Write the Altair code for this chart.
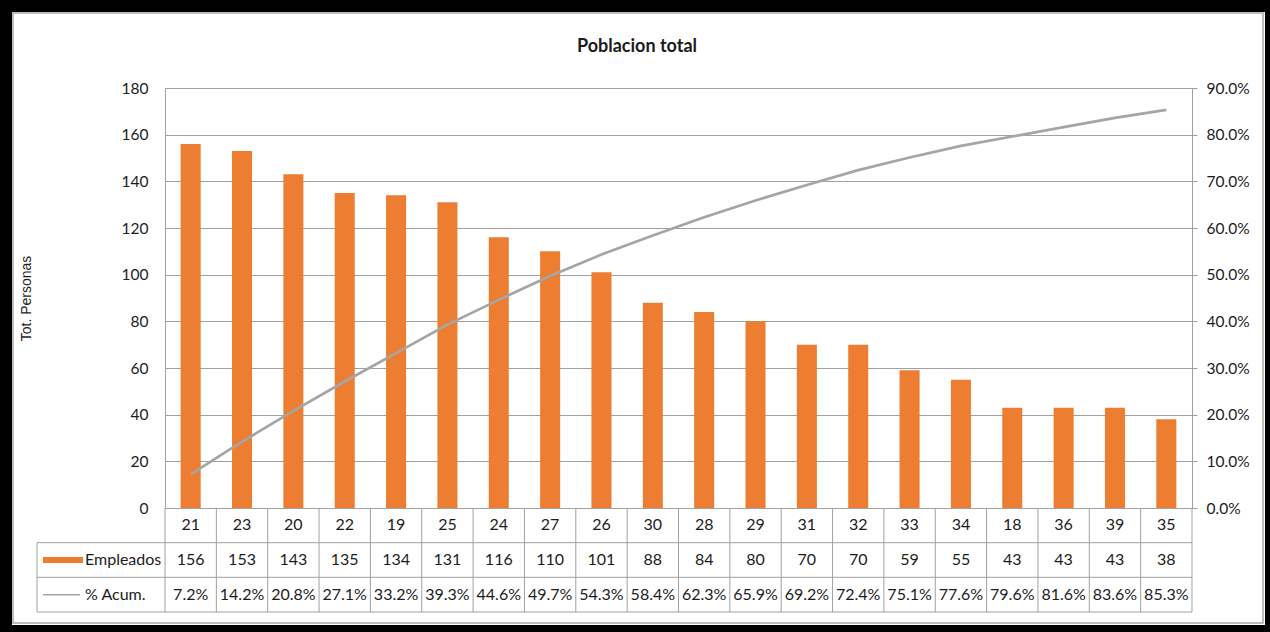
import altair as alt
import pandas as pd

# Categories (age) in Pareto order, employee counts and cumulative share
categorias = ["21", "23", "20", "22", "19", "25", "24", "27", "26", "30",
              "28", "29", "31", "32", "33", "34", "18", "36", "39", "35"]
empleados = [156, 153, 143, 135, 134, 131, 116, 110, 101, 88,
             84, 80, 70, 70, 59, 55, 43, 43, 43, 38]
pct_acum = [7.2, 14.2, 20.8, 27.1, 33.2, 39.3, 44.6, 49.7, 54.3, 58.4,
            62.3, 65.9, 69.2, 72.4, 75.1, 77.6, 79.6, 81.6, 83.6, 85.3]
filas = ["cat", "Empleados", "% Acum."]
ticks_izq = list(range(0, 181, 20))
ticks_der = [i / 10 for i in range(10)]

# layout (pixels, relative to the plot area)
W, H = 1027, 420
PAD = {"left": 165, "top": 88, "right": 78, "bottom": 124}
ROW_H = 104 / 3
T_BOTTOM = H + 3 * ROW_H
HEAD_LEFT = -128

FONT = "Lato"
TEXT = "#1c1c1c"
GRID = "#a0a0a0"
ORANGE = "#ED7D31"
GREY_LINE = "#A5A5A5"

df = pd.DataFrame({
    "cat": categorias,
    "empleados": empleados,
    "pct": [p / 100 for p in pct_acum],
})

tabla = pd.DataFrame(
    [{"cat": c, "fila": "cat", "txt": c} for c in categorias]
    + [{"cat": c, "fila": "Empleados", "txt": str(e)} for c, e in zip(categorias, empleados)]
    + [{"cat": c, "fila": "% Acum.", "txt": f"{p:.1f}%"} for c, p in zip(categorias, pct_acum)]
)
uno = pd.DataFrame({"k": [0]})


def x_cat(band=None):
    kw = {} if band is None else {"bandPosition": band}
    return alt.X("cat:N", sort=categorias,
                 scale=alt.Scale(paddingInner=0, paddingOuter=0),
                 axis=None, **kw)


def y_fila(band=None):
    kw = {} if band is None else {"bandPosition": band}
    return alt.Y("fila:N",
                 scale=alt.Scale(domain=filas, range=[H, T_BOTTOM],
                                 paddingInner=0, paddingOuter=0),
                 axis=None, **kw)


# outer black frame and inner grey border
marco = alt.Chart(uno).mark_rect(fillOpacity=0, stroke="black", strokeWidth=24).encode(
    x=alt.value(-PAD["left"]), x2=alt.value(W + PAD["right"] + 7),
    y=alt.value(-PAD["top"]), y2=alt.value(H + PAD["bottom"] + 5),
)
borde = alt.Chart(uno).mark_rect(fillOpacity=0, stroke="#a8a8a8", strokeWidth=1.5).encode(
    x=alt.value(13 - PAD["left"]), x2=alt.value(W + PAD["right"] - 7),
    y=alt.value(13 - PAD["top"]), y2=alt.value(H + PAD["bottom"] - 9),
)

# data table grid
v_izq = alt.Chart(df).mark_rule(color=GRID, strokeWidth=1).encode(
    x=x_cat(0), y=alt.value(H), y2=alt.value(T_BOTTOM))
v_der = alt.Chart(df.tail(1)).mark_rule(color=GRID, strokeWidth=1).encode(
    x=x_cat(1), y=alt.value(H), y2=alt.value(T_BOTTOM))
h_lineas = alt.Chart(pd.DataFrame({"fila": ["Empleados", "% Acum."]})).mark_rule(
    color=GRID, strokeWidth=1).encode(
    x=alt.value(HEAD_LEFT), x2=alt.value(W), y=y_fila(0))
h_final = alt.Chart(pd.DataFrame({"fila": ["% Acum."]})).mark_rule(
    color=GRID, strokeWidth=1).encode(
    x=alt.value(HEAD_LEFT), x2=alt.value(W), y=y_fila(1))
v_cab = alt.Chart(pd.DataFrame({"fila": ["Empleados"]})).mark_rule(
    color=GRID, strokeWidth=1).encode(
    x=alt.value(HEAD_LEFT), y=y_fila(0), y2=alt.value(T_BOTTOM))

barras = alt.Chart(df).mark_bar(color=ORANGE, width=alt.RelativeBandSize(0.39)).encode(
    x=x_cat(),
    y=alt.Y("empleados:Q",
            scale=alt.Scale(domain=[0, 180], nice=False),
            axis=alt.Axis(values=ticks_izq, grid=True, gridColor=GRID, gridWidth=1,
                          domain=True, domainColor=GRID, ticks=False,
                          labelPadding=17, labelFont=FONT, labelFontSize=15.5,
                          labelColor=TEXT,
                          title="Tot. Personas", titleFont="Liberation Sans",
                          titleFontSize=14, titleFontWeight="normal",
                          titleColor=TEXT, titleX=-139, titleY=H / 2,
                          titleAlign="center", titleBaseline="middle")),
)

linea = alt.Chart(df).mark_line(color=GREY_LINE, strokeWidth=2.7, strokeJoin="round").encode(
    x=x_cat(),
    y=alt.Y("pct:Q",
            scale=alt.Scale(domain=[0, 0.9], nice=False),
            axis=alt.Axis(orient="right", values=ticks_der, format=".1%", grid=False,
                          domain=True, domainColor=GRID, ticks=True, tickColor=GRID,
                          tickSize=5, labelPadding=9, labelFont=FONT,
                          labelFontSize=15.5, labelColor=TEXT),
            title=None),
)

texto_tabla = alt.Chart(tabla).mark_text(font=FONT, fontSize=16, color=TEXT).encode(
    x=x_cat(), y=y_fila(), text="txt:N")

cabecera = alt.Chart(pd.DataFrame({"fila": ["Empleados", "% Acum."]})).mark_text(
    font=FONT, fontSize=16, color=TEXT, align="left").encode(
    x=alt.value(-80), y=y_fila(), text="fila:N")

clave_barra = alt.Chart(pd.DataFrame({"fila": ["Empleados"]})).mark_rule(
    color=ORANGE, strokeWidth=6).encode(
    x=alt.value(-122), x2=alt.value(-82), y=y_fila())
clave_linea = alt.Chart(pd.DataFrame({"fila": ["% Acum."]})).mark_rule(
    color=GREY_LINE, strokeWidth=1.5).encode(
    x=alt.value(-122), x2=alt.value(-85), y=y_fila())

titulo = alt.Chart(uno).mark_text(
    text="Poblacion total", font=FONT, fontSize=18, fontWeight="bold",
    color=TEXT, baseline="alphabetic", align="center").encode(
    x=alt.value(637 - PAD["left"]), y=alt.value(52 - PAD["top"]))

chart = alt.layer(
    marco, borde, v_izq, v_der, h_lineas, h_final, v_cab,
    barras, linea, texto_tabla, cabecera, clave_barra, clave_linea, titulo,
).resolve_scale(y="independent").properties(
    width=W, height=H, padding=PAD,
    autosize=alt.AutoSizeParams(type="none"),
    background="white",
).configure_view(strokeWidth=0)

chart.save("out.html", embed_options={"renderer": "svg", "actions": False})
